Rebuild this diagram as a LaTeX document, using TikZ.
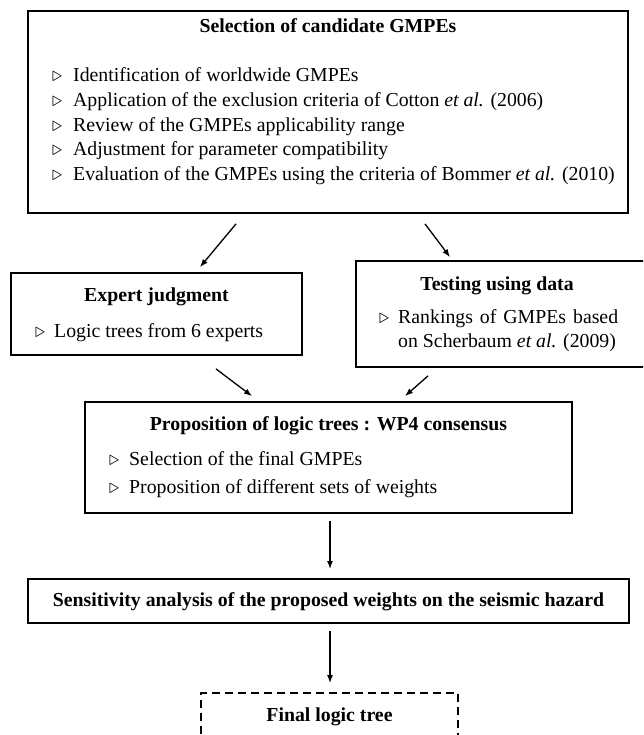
\documentclass[tikz,border=0pt]{standalone}
\usepackage{fontspec}
\setmainfont{Liberation Serif}
\usetikzlibrary{arrows.meta,calc}
\begin{document}
\begin{tikzpicture}[x=1pt,y=-1pt,
  box/.style={draw, line width=1.8pt, inner sep=0pt, rectangle},
  txt/.style={anchor=base west, inner sep=0pt, font=\fontsize{19.8}{24}\selectfont},
  ttl/.style={anchor=base, inner sep=0pt, font=\fontsize{19.8}{24}\selectfont\bfseries},
  bul/.style={anchor=base west, inner sep=0pt, font=\fontsize{19.8}{24}\selectfont},
  arr/.style={line width=1.3pt, -{Latex[length=8pt,width=6pt]}}
]
\useasboundingbox (0,0) rectangle (643,735);
\clip (0,0) rectangle (643,735);

% Selection box
\node[box, minimum width=600pt, minimum height=202pt] (sel) at (328,112) {};
\node[ttl] (selT) at (328,33) {Selection of candidate GMPEs};
\node[bul] (sb1) at (52,82) {$\triangleright$};
\node[txt] (s1) at (73,82) {Identification of worldwide GMPEs};
\node[bul] (sb2) at (52,107) {$\triangleright$};
\node[txt] (s2) at (73,107) {Application of the exclusion criteria of Cotton \textit{et al.} (2006)};
\node[bul] (sb3) at (52,132) {$\triangleright$};
\node[txt] (s3) at (73,132) {Review of the GMPEs applicability range};
\node[bul] (sb4) at (52,156) {$\triangleright$};
\node[txt] (s4) at (73,156) {Adjustment for parameter compatibility};
\node[bul] (sb5) at (52,181) {$\triangleright$};
\node[txt] (s5) at (73,181) {Evaluation of the GMPEs using the criteria of Bommer \textit{et al.} (2010)};

% Expert judgment
\node[box, minimum width=291pt, minimum height=82pt] (exp) at (156.5,314) {};
\node[ttl] (expT) at (156.5,301) {Expert judgment};
\node[bul] (eb1) at (35,337) {$\triangleright$};
\node[txt] (e1) at (54,337) {Logic trees from 6 experts};

% Testing using data
\node[box, minimum width=290pt, minimum height=106pt] (tst) at (501,314) {};
\node[ttl] (tstT) at (497,290) {Testing using data};
\node[bul] (tb1) at (379,323) {$\triangleright$};
\node[txt] (t1) at (398,323) {\makebox[220pt][s]{Rankings of GMPEs based}};
\node[txt] (t2) at (398,347) {on Scherbaum \textit{et al.} (2009)};

% Proposition
\node[box, minimum width=487pt, minimum height=111pt] (prop) at (328.5,457.5) {};
\node[ttl] (propT) at (328.5,430) {Proposition of logic trees : WP4 consensus};
\node[bul] (pb1) at (109,465) {$\triangleright$};
\node[txt] (p1) at (129,465) {Selection of the final GMPEs};
\node[bul] (pb2) at (109,493) {$\triangleright$};
\node[txt] (p2) at (129,493) {Proposition of different sets of weights};

% Sensitivity
\node[box, minimum width=601pt, minimum height=44pt] (sens) at (328.5,601) {};
\node[ttl] (sensT) at (328.5,606) {Sensitivity analysis of the proposed weights on the seismic hazard};

% Final
\node[box, dash pattern=on 8pt off 5pt, minimum width=257pt, minimum height=77pt] (fin) at (329.5,731.5) {};
\node[ttl] (finT) at (329.5,721) {Final logic tree};

% Arrows
\draw[arr] ($(sel.south)+(-92,10)$) -- ($(exp.north)+(43.5,-5)$);
\draw[arr] ($(sel.south)+(97,10)$) -- ($(tst.north)+(-51,-3)$);
\draw[arr] ($(exp.south)+(59.5,13)$) -- ($(prop.north)+(-76.5,-5)$);
\draw[arr] ($(tst.south)+(-73,8)$) -- ($(prop.north)+(76.5,-5)$);
\draw[arr] ($(prop.south)+(1.5,7)$) -- ($(sens.north)+(1.5,-9)$);
\draw[arr] ($(sens.south)+(1.5,7)$) -- ($(fin.north)+(0.5,-9)$);
\end{tikzpicture}
\end{document}
